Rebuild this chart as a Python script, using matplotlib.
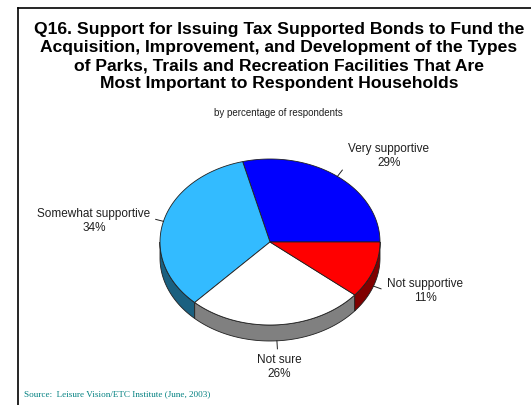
import numpy as np
import matplotlib
matplotlib.use('Agg')
import matplotlib.pyplot as plt
from matplotlib.patches import Polygon
from matplotlib.lines import Line2D

# survey answers, drawn counter-clockwise starting at 3 o'clock
categories = ['Very supportive', 'Somewhat supportive', 'Not sure', 'Not supportive']
percents = [29, 34, 26, 11]

title = ('Q16. Support for Issuing Tax Supported Bonds to Fund the\n'
         'Acquisition, Improvement, and Development of the Types\n'
         'of Parks, Trails and Recreation Facilities That Are\n'
         'Most Important to Respondent Households')
subtitle = 'by percentage of respondents'
source = 'Source:  Leisure Vision/ETC Institute (June, 2003)'

# colours of the top faces and of the rim
top_colors = ['#0000FF', '#33BBFF', '#FFFFFF', '#FF0000']
side_colors = ['#000080', '#1A6080', '#808080', '#800000']

# pie geometry in pixels (y grows downward)
cx, cy = 270, 243
rx, ry = 110, 83
depth = 16

# where each label sits (text centre)
label_pos = [(389, 156), (94, 221), (279, 367), (425, 291)]

W, H = 531, 406
fig = plt.figure(figsize=(W / 100, H / 100), dpi=100)
ax = fig.add_axes([0, 0, 1, 1])
ax.set_xlim(0, W)
ax.set_ylim(H, 0)
ax.axis('off')


def rim(t):
    t = np.radians(t)
    return cx + rx * np.cos(t), cy - ry * np.sin(t)


total = float(sum(percents))
bounds = np.concatenate([[0], np.cumsum(percents) / total * 360])

# rim (only the front half, 180..360 deg, can be seen)
for i in range(len(percents)):
    lo = max(bounds[i], 180)
    hi = min(bounds[i + 1], 360)
    if hi <= lo:
        continue
    th = np.linspace(lo, hi, 80)
    xs, ys = rim(th)
    pts = list(zip(xs, ys)) + list(zip(xs[::-1], ys[::-1] + depth))
    ax.add_patch(Polygon(pts, closed=True, facecolor=side_colors[i],
                         edgecolor='#202020', linewidth=0.6))

# top faces
for i in range(len(percents)):
    th = np.linspace(bounds[i], bounds[i + 1], 120)
    xs, ys = rim(th)
    pts = [(cx, cy)] + list(zip(xs, ys))
    ax.add_patch(Polygon(pts, closed=True, facecolor=top_colors[i],
                         edgecolor='#202020', linewidth=0.6))

# labels with short leader lines
for i, name in enumerate(categories):
    mid = (bounds[i] + bounds[i + 1]) / 2
    x0, y0 = rim(mid)
    if np.sin(np.radians(mid)) < 0:
        y0 += depth
    ux, uy = np.cos(np.radians(mid)), -np.sin(np.radians(mid))
    ax.add_line(Line2D([x0, x0 + 8 * ux], [y0, y0 + 8 * uy],
                       color='#202020', linewidth=0.7))
    lx, ly = label_pos[i]
    ax.text(lx, ly, '%s\n%d%%' % (name, percents[i]), ha='center', va='center',
            fontsize=8.5, family='Liberation Sans', color='#202020',
            linespacing=1.15)

ax.text(279, 22, title, ha='center', va='top', fontsize=12.6, fontweight='bold',
        family='Liberation Sans', linespacing=1.26)
ax.text(278, 113, subtitle, ha='center', va='center', fontsize=7,
        family='Liberation Sans', color='#202020')
ax.text(24, 394, source, ha='left', va='center', fontsize=6.6,
        family='Liberation Serif', color='#008080')

# frame on the left and top
ax.add_line(Line2D([18, 18], [9, H], color='black', linewidth=1.2))
ax.add_line(Line2D([18, W], [9, 9], color='black', linewidth=1.2))

fig.savefig('out.png', dpi=100)
